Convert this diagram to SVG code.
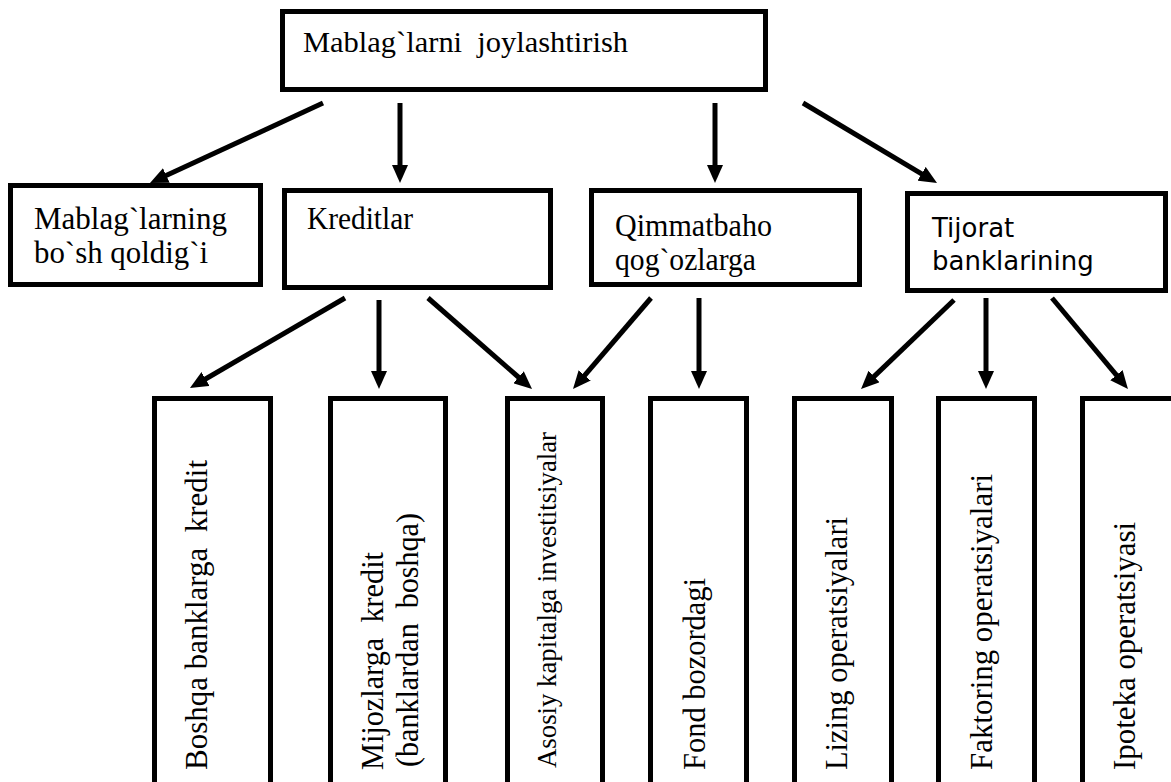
<svg xmlns="http://www.w3.org/2000/svg" width="1171" height="782" viewBox="0 0 1171 782">
<style>
.box{fill:#fff;stroke:#000;stroke-width:5}
.t{font-family:"Liberation Serif","Times New Roman",serif;font-size:30px;fill:#000}
.r{font-size:32px}
.s{font-family:"DejaVu Sans",sans-serif;font-size:26px;fill:#000}
.c{stroke:#000;stroke-width:5;fill:none;marker-end:url(#ah)}
</style>
<defs>
<marker id="ah" markerUnits="userSpaceOnUse" viewBox="0 0 18 16" markerWidth="18" markerHeight="16" refX="2" refY="8" orient="auto">
<path d="M0,0 L18,8 L0,16 z" fill="#000"/>
</marker>
<clipPath id="clipC"><rect x="594" y="193" width="263" height="84"/></clipPath>
<clipPath id="clipD"><rect x="910" y="196" width="253" height="81"/></clipPath>
</defs>
<rect width="1171" height="782" fill="#fff"/>
<g id="connectors">
<line class="c" x1="323" y1="103" x2="164.5" y2="176.3"/>
<line class="c" x1="400" y1="103" x2="400" y2="167"/>
<line class="c" x1="715" y1="103" x2="715" y2="167"/>
<line class="c" x1="803" y1="103" x2="923.3" y2="174.8"/>
<line class="c" x1="345" y1="298" x2="203.8" y2="380"/>
<line class="c" x1="379" y1="300" x2="379" y2="373"/>
<line class="c" x1="428" y1="298" x2="520" y2="378.5"/>
<line class="c" x1="651" y1="298" x2="583.4" y2="376.9"/>
<line class="c" x1="699" y1="298" x2="699" y2="373"/>
<line class="c" x1="954" y1="300" x2="872.6" y2="377.9"/>
<line class="c" x1="986" y1="298" x2="986" y2="373"/>
<line class="c" x1="1052" y1="298" x2="1117.7" y2="376.7"/>
</g>
<g id="root">
<rect class="box" x="282.5" y="11.5" width="483" height="78"/>
<text class="t" x="303" y="52" xml:space="preserve" textLength="325" lengthAdjust="spacingAndGlyphs">Mablag`larni  joylashtirish</text>
</g>
<g id="bosh-qoldiq">
<rect class="box" x="10.5" y="185.5" width="250" height="99"/>
<text class="t" style="font-size:31px" x="34" y="229" textLength="193" lengthAdjust="spacingAndGlyphs">Mablag`larning</text>
<text class="t" style="font-size:31px" x="34" y="263" textLength="174" lengthAdjust="spacingAndGlyphs">bo`sh qoldig`i</text>
</g>
<g id="kreditlar">
<rect class="box" x="284.5" y="190.5" width="266" height="97"/>
<text class="t" style="font-size:31px" x="307" y="229" textLength="106" lengthAdjust="spacingAndGlyphs">Kreditlar</text>
</g>
<g id="qimmatbaho">
<rect class="box" x="591.5" y="190.5" width="268" height="94"/>
<g clip-path="url(#clipC)">
<text class="t" style="font-size:31px" x="615" y="236" textLength="157" lengthAdjust="spacingAndGlyphs">Qimmatbaho</text>
<text class="t" style="font-size:31px" x="615" y="270" textLength="141" lengthAdjust="spacingAndGlyphs">qog`ozlarga</text>
</g>
</g>
<g id="tijorat">
<rect class="box" x="907.5" y="193.5" width="258" height="97"/>
<g clip-path="url(#clipD)">
<text class="s" x="932" y="237">Tijorat</text>
<text class="s" x="932" y="270">banklarining</text>
</g>
</g>
<g id="boshqa-banklar">
<rect class="box" x="154.5" y="398.5" width="116" height="400"/>
<text class="t r" transform="translate(207,770) rotate(-90)" xml:space="preserve" textLength="310" lengthAdjust="spacingAndGlyphs">Boshqa banklarga  kredit</text>
</g>
<g id="mijozlar">
<rect class="box" x="330.5" y="398.5" width="115" height="400"/>
<text class="t r" transform="translate(383,770) rotate(-90)" xml:space="preserve" textLength="218" lengthAdjust="spacingAndGlyphs">Mijozlarga  kredit</text>
<text class="t r" transform="translate(418,767) rotate(-90)" xml:space="preserve" textLength="254" lengthAdjust="spacingAndGlyphs">(banklardan  boshqa)</text>
</g>
<g id="asosiy-kapital">
<rect class="box" x="507.5" y="398.5" width="95" height="400"/>
<text class="t" style="font-size:28px" transform="translate(556,768) rotate(-90)" textLength="336" lengthAdjust="spacingAndGlyphs">Asosiy kapitalga investitsiyalar</text>
</g>
<g id="fond-bozor">
<rect class="box" x="650.5" y="398.5" width="96" height="400"/>
<text class="t r" transform="translate(705,770) rotate(-90)" textLength="192" lengthAdjust="spacingAndGlyphs">Fond bozordagi</text>
</g>
<g id="lizing">
<rect class="box" x="794.5" y="398.5" width="97" height="400"/>
<text class="t r" transform="translate(847,770) rotate(-90)" textLength="253" lengthAdjust="spacingAndGlyphs">Lizing operatsiyalari</text>
</g>
<g id="faktoring">
<rect class="box" x="938.5" y="398.5" width="96" height="400"/>
<text class="t r" transform="translate(992,770) rotate(-90)" textLength="296" lengthAdjust="spacingAndGlyphs">Faktoring operatsiyalari</text>
</g>
<g id="ipoteka">
<rect class="box" x="1082.5" y="398.5" width="100" height="400"/>
<text class="t r" transform="translate(1135,770) rotate(-90)" textLength="248" lengthAdjust="spacingAndGlyphs">Ipoteka operatsiyasi</text>
</g>
</svg>
